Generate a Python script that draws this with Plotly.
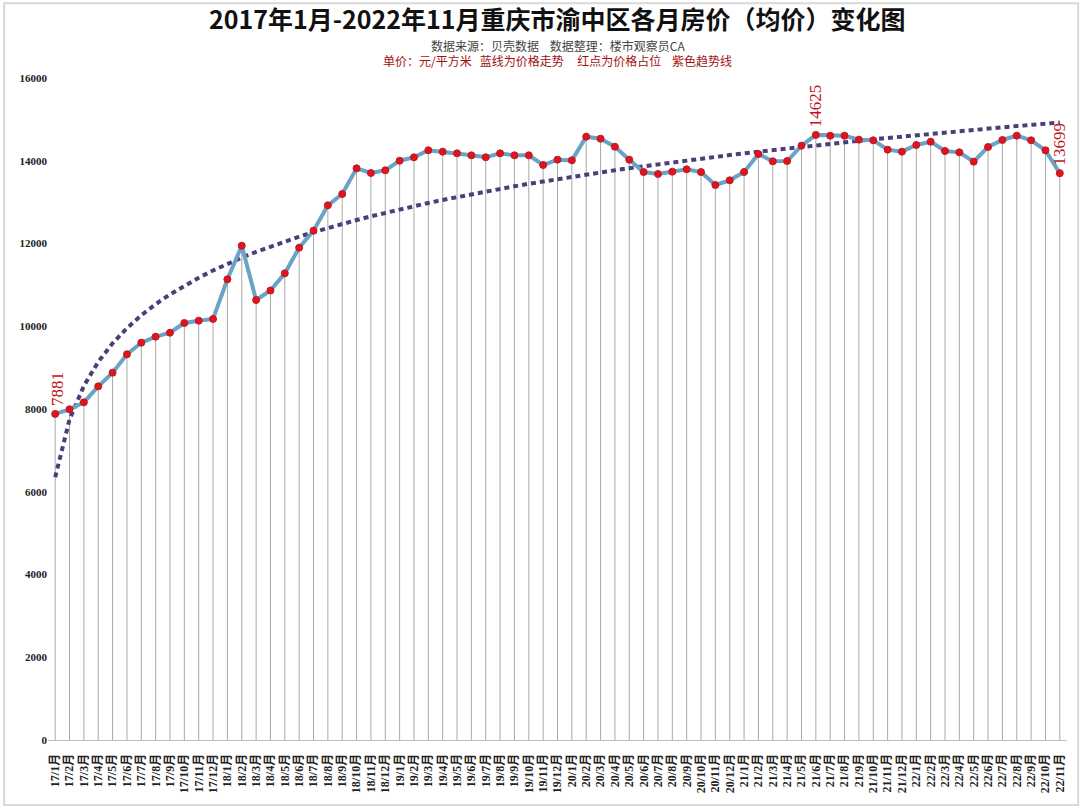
import numpy as np
import plotly.graph_objects as go

months = [
    "17/1月", "17/2月", "17/3月", "17/4月", "17/5月", "17/6月", "17/7月", "17/8月", "17/9月", "17/10月", "17/11月", "17/12月",
    "18/1月", "18/2月", "18/3月", "18/4月", "18/5月", "18/6月", "18/7月", "18/8月", "18/9月", "18/10月", "18/11月", "18/12月",
    "19/1月", "19/2月", "19/3月", "19/4月", "19/5月", "19/6月", "19/7月", "19/8月", "19/9月", "19/10月", "19/11月", "19/12月",
    "20/1月", "20/2月", "20/3月", "20/4月", "20/5月", "20/6月", "20/7月", "20/8月", "20/9月", "20/10月", "20/11月", "20/12月",
    "21/1月", "21/2月", "21/3月", "21/4月", "21/5月", "21/6月", "21/7月", "21/8月", "21/9月", "21/10月", "21/11月", "21/12月",
    "22/1月", "22/2月", "22/3月", "22/4月", "22/5月", "22/6月", "22/7月", "22/8月", "22/9月", "22/10月", "22/11月",
]

prices_2017 = [7881, 7993, 8162, 8548, 8878, 9322, 9603, 9748, 9845, 10079, 10135, 10175]
prices_2018 = [11134, 11947, 10634, 10864, 11279, 11899, 12310, 12922, 13196, 13817, 13704, 13769]
prices_2019 = [14001, 14083, 14253, 14220, 14179, 14131, 14083, 14179, 14131, 14131, 13897, 14026]
prices_2020 = [14010, 14582, 14534, 14340, 14026, 13728, 13680, 13736, 13793, 13728, 13414, 13527]
prices_2021 = [13728, 14163, 13986, 13994, 14365, 14625, 14606, 14606, 14510, 14494, 14268, 14220]
prices_2022 = [14381, 14461, 14236, 14203, 13978, 14333, 14502, 14606, 14494, 14252, 13699]

prices = prices_2017 + prices_2018 + prices_2019 + prices_2020 + prices_2021 + prices_2022
labelled_points = ["17/1月", "21/6月", "22/11月"]

idx = list(range(len(months)))

# logarithmic trendline (least squares on ln(n))
n = np.arange(1, len(prices) + 1)
b, a = np.polyfit(np.log(n), np.array(prices, dtype=float), 1)
trend = a + b * np.log(n)

serif = "Liberation Serif, Times New Roman, Noto Sans CJK SC, serif"

fig = go.Figure()

# drop lines from each point to the axis
dx, dy = [], []
for i, v in zip(idx, prices):
    dx += [i, i, None]
    dy += [0, v, None]
fig.add_trace(go.Scatter(x=dx, y=dy, mode="lines",
                         line=dict(color="#a9a9a9", width=1),
                         hoverinfo="skip", showlegend=False))

# trendline
fig.add_trace(go.Scatter(x=idx, y=trend, mode="lines",
                         line=dict(color="#4a3f78", width=4, dash="5px,4px"),
                         hoverinfo="skip", showlegend=False))

# price line
fig.add_trace(go.Scatter(x=idx, y=prices, mode="lines+markers",
                         line=dict(color="#6aa3c6", width=4),
                         marker=dict(color="#e8101a", size=7,
                                     line=dict(color="#b0202a", width=1)),
                         showlegend=False))

for lab in labelled_points:
    i = months.index(lab)
    fig.add_annotation(x=i, y=prices[i], text=str(prices[i]), textangle=-90,
                       showarrow=False, xanchor="center", yanchor="bottom",
                       yshift=6, xshift=3 if i == 0 else 0,
                       font=dict(family=serif, size=17, color="#c0141c"))

fig.add_annotation(xref="paper", yref="paper", x=0.5, y=1, xanchor="center", yanchor="bottom",
                   yshift=40, showarrow=False,
                   text="<b>2017年1月-2022年11月重庆市渝中区各月房价（均价）变化图</b>",
                   font=dict(family="Noto Sans CJK SC", size=25, color="#111111"))
fig.add_annotation(xref="paper", yref="paper", x=0.5, y=1, xanchor="center", yanchor="bottom",
                   yshift=22, showarrow=False,
                   text="数据来源：贝壳数据    数据整理：楼市观察员CA",
                   font=dict(family="Noto Sans CJK SC", size=12, color="#444444"))
fig.add_annotation(xref="paper", yref="paper", x=0.5, y=1, xanchor="center", yanchor="bottom",
                   yshift=7, showarrow=False,
                   text="单价：元/平方米   蓝线为价格走势     红点为价格占位    紫色趋势线",
                   font=dict(family="Noto Sans CJK SC", size=12, color="#a01010"))

fig.update_xaxes(range=[-0.5, len(months) - 0.5], tickmode="array", tickvals=idx, ticktext=months,
                 tickangle=-90, showgrid=False, zeroline=False,
                 showline=True, linecolor="#bfbfbf", linewidth=1,
                 ticks="", ticklabelstandoff=8,
                 tickfont=dict(family=serif, size=12, color="#222222", weight="bold"))
fig.update_yaxes(range=[0, 16000], tick0=0, dtick=2000, showgrid=False, zeroline=False,
                 showline=False, ticks="", tickformat="d",
                 tickfont=dict(family=serif, size=11, color="#222222", weight="bold"))

fig.update_layout(
    width=1080, height=808,
    margin=dict(l=48, r=13, t=78, b=68, autoexpand=False),
    paper_bgcolor="white", plot_bgcolor="white",
    shapes=[dict(type="rect", xref="paper", yref="paper", x0=-0.043, x1=1.011, y0=-0.098, y1=1.113,
                 line=dict(color="#d9d9d9", width=2), layer="below")],
)

fig.write_html("out.html", config={"displayModeBar": False},
               post_script="document.body.style.margin='0';document.body.style.overflow='hidden';")
